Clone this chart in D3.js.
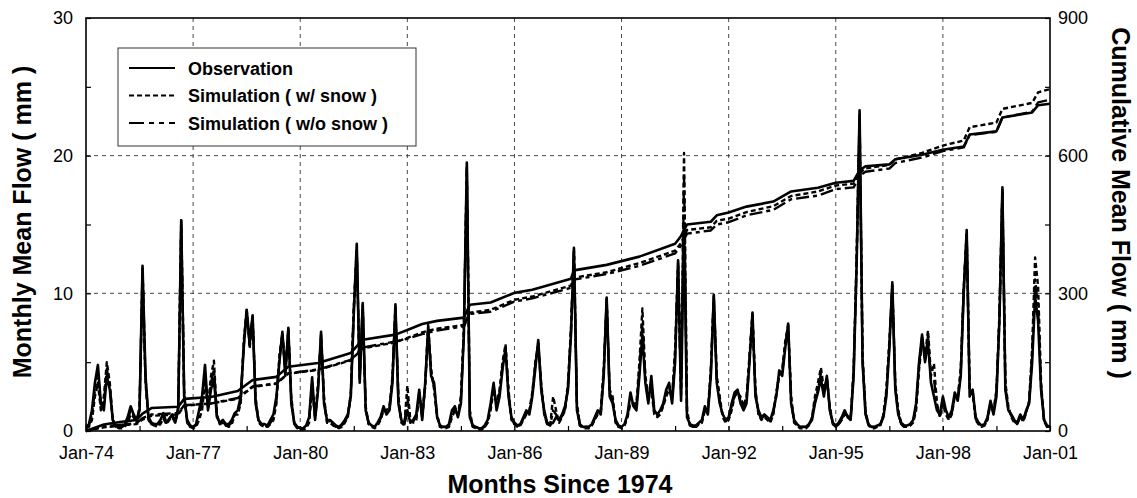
<!DOCTYPE html>
<html><head><meta charset="utf-8">
<script src="https://cdnjs.cloudflare.com/ajax/libs/d3/7.8.5/d3.min.js"></script>
<style>
body{margin:0;background:#fff}
svg{display:block}
text{font-family:"Liberation Sans",Arial,Helvetica,sans-serif;fill:#000}
</style>
</head><body>
<svg id="chart" width="1137" height="498"></svg>
<script>
// ---------- DATA (month index 0 = Jan-74 ... 324 = Jan-01) ----------
const xTickMonths = [0, 36, 72, 108, 144, 180, 216, 252, 288, 324];
const xTickLabels = ["Jan-74","Jan-77","Jan-80","Jan-83","Jan-86","Jan-89","Jan-92","Jan-95","Jan-98","Jan-01"];
const xMinorMonths = [18, 54, 90, 126, 162, 198, 234, 270, 306];
const leftTicks = [0, 10, 20, 30];
const leftMinor = [5, 15, 25];
const rightTicks = [0, 300, 600, 900];
const rightMinor = [150, 450, 750];
const seriesNames = ["Observation", "Simulation ( w/ snow )", "Simulation ( w/o snow )"];

// Monthly mean flow (mm) - observation
const obsMonthly = [
 0.3,0.5,1.5,3.5,4.8,2.0,1.5,4.0,3.0,0.8,0.4,0.3,      // 1974
 0.3,0.5,1.0,1.8,1.2,0.8,1.5,12.0,4.0,1.0,0.6,0.5,     // 1975
 0.5,0.8,1.3,0.6,0.9,1.2,0.7,1.5,15.3,2.5,0.8,0.4,     // 1976
 0.3,0.5,1.5,2.5,4.8,1.5,3.0,3.8,1.0,0.6,0.8,0.5,      // 1977
 0.5,0.8,1.3,1.5,2.5,6.0,8.8,6.5,8.4,2.0,0.8,0.5,      // 1978
 0.5,0.4,0.8,1.2,2.5,5.0,7.2,4.0,7.5,2.0,0.6,0.3,      // 1979
 0.2,0.2,0.4,1.0,3.9,0.8,3.0,7.2,2.0,0.8,0.8,0.6,      // 1980
 0.4,0.3,0.5,0.8,1.2,2.5,8.5,13.6,3.5,9.3,1.5,0.6,     // 1981
 0.4,0.3,0.6,1.0,1.8,1.2,1.5,3.5,9.2,2.0,0.8,0.5,      // 1982
 1.5,0.6,0.8,1.2,3.0,0.8,3.5,7.5,4.0,3.5,1.0,0.4,      // 1983
 0.3,0.3,0.5,1.5,1.8,1.0,2.0,7.0,19.5,1.0,0.4,0.3,     // 1984
 0.2,0.2,0.4,0.8,2.0,3.5,1.5,2.5,4.5,6.0,2.5,1.0,      // 1985
 0.6,0.4,0.5,1.0,1.5,1.2,2.5,4.5,6.6,3.0,1.5,0.6,      // 1986
 0.5,0.6,1.0,0.8,1.2,1.8,3.0,7.0,13.3,1.5,0.5,0.3,     // 1987
 0.3,0.3,0.5,1.0,1.5,1.2,4.0,9.7,2.5,2.0,0.8,0.4,      // 1988
 0.3,0.5,1.2,2.8,1.8,1.5,4.0,7.0,3.5,2.0,4.0,1.5,      // 1989
 1.2,1.5,2.0,3.0,3.5,2.0,5.0,12.4,2.2,15.0,1.0,0.5,    // 1990
 0.4,0.4,0.6,0.8,1.8,1.2,4.0,9.9,3.5,2.0,1.2,0.8,      // 1991
 1.0,2.0,2.8,3.0,2.0,1.5,2.0,5.0,8.6,2.5,1.5,1.0,      // 1992
 1.2,1.0,0.8,1.5,2.5,4.4,4.0,6.0,7.8,2.0,0.8,0.5,      // 1993
 0.3,0.3,0.3,0.5,0.8,2.0,2.8,3.8,2.5,4.0,1.5,0.6,      // 1994
 0.4,0.6,1.0,1.5,1.0,0.8,4.0,12.0,23.3,5.0,1.2,0.5,    // 1995
 0.3,0.3,0.4,0.5,1.0,2.5,6.0,10.8,3.0,1.2,0.6,0.4,     // 1996
 0.4,0.5,0.8,2.0,5.0,7.0,5.0,6.5,3.5,2.5,1.5,1.2,      // 1997
 2.5,1.5,1.0,1.5,2.8,2.2,4.0,10.0,14.6,2.5,3.0,1.0,    // 1998
 0.6,0.4,0.5,1.0,2.2,1.2,2.5,8.0,17.7,3.0,1.5,1.2,     // 1999
 0.8,0.6,1.2,0.8,1.5,2.0,5.0,9.8,8.0,3.0,0.8,0.4,      // 2000
 0.3                                                   // Jan-01
];
// Monthly mean flow (mm) - simulation with snow
const simSnowMonthly = [
 0.2,0.3,0.8,2.5,3.5,1.5,2.5,5.0,3.5,0.8,0.3,0.2,
 0.2,0.3,0.6,1.2,1.0,0.6,1.8,11.5,3.5,0.8,0.5,0.4,
 0.3,0.5,0.9,0.5,0.8,1.0,0.6,1.8,15.3,2.8,0.6,0.3,
 0.2,0.3,0.8,1.5,3.5,1.8,4.0,5.1,1.2,0.5,0.6,0.4,
 0.3,0.5,1.2,1.2,2.0,6.5,8.9,6.0,8.2,2.5,0.6,0.4,
 0.3,0.3,0.5,0.8,2.0,5.5,7.0,4.5,7.3,2.5,0.5,0.2,
 0.1,0.1,0.2,0.6,3.2,1.0,3.5,6.8,2.5,0.6,0.6,0.4,
 0.3,0.2,0.3,0.6,1.0,2.8,9.0,13.0,4.0,9.0,1.8,0.5,
 0.3,0.2,0.4,0.8,1.5,1.5,1.8,4.0,8.8,2.5,0.6,0.4,
 3.3,0.8,0.6,0.8,2.5,1.2,3.2,7.7,4.5,3.0,1.2,0.3,
 0.2,0.2,0.3,1.0,1.5,1.2,2.5,7.5,19.0,1.5,0.3,0.2,
 0.1,0.1,0.3,0.6,1.5,3.0,2.0,3.0,5.0,6.3,3.0,0.8,
 0.5,0.3,0.4,0.8,1.2,1.5,2.8,5.0,6.3,3.5,1.2,0.5,
 0.4,2.5,1.5,0.6,1.0,1.5,3.5,7.5,13.0,2.0,0.4,0.2,
 0.2,0.2,0.4,0.8,1.2,1.5,4.5,9.5,3.0,2.5,0.6,0.3,
 0.2,0.4,1.0,2.0,2.0,2.0,5.0,8.9,4.0,2.5,3.0,1.2,
 1.0,1.2,1.8,2.5,3.0,2.5,6.0,12.0,3.0,20.2,1.5,0.4,
 0.3,0.3,0.5,0.6,1.5,1.5,4.5,9.6,4.0,2.5,1.0,0.6,
 0.8,1.5,2.5,2.8,2.5,1.8,2.5,5.5,8.4,3.0,1.2,0.8,
 1.0,0.8,0.6,1.2,2.8,4.0,4.5,6.5,7.6,2.5,0.6,0.4,
 0.2,0.2,0.2,0.4,1.0,2.5,3.5,4.6,3.0,3.8,1.8,0.5,
 0.3,0.5,0.8,1.2,1.2,1.0,4.5,12.5,22.8,5.5,1.5,0.4,
 0.2,0.2,0.3,0.4,1.2,3.0,6.5,10.5,3.5,1.5,0.5,0.3,
 0.3,0.4,0.6,1.5,4.5,6.5,5.5,7.3,4.0,4.9,2.0,1.0,
 2.0,1.2,0.8,1.2,2.5,2.5,4.5,10.5,14.3,3.0,2.8,0.8,
 0.5,0.3,0.4,0.8,2.0,1.5,3.0,8.5,17.4,3.5,1.8,1.0,
 0.6,0.5,1.0,0.7,1.3,2.2,6.0,12.6,10.5,3.5,0.7,0.3,
 0.3
];
// Monthly mean flow (mm) - simulation without snow
const simNoSnowMonthly = [
 0.3,0.4,1.2,3.0,4.2,1.8,2.0,4.5,3.2,0.8,0.3,0.3,
 0.3,0.4,0.8,1.5,1.1,0.7,1.6,11.8,3.8,0.9,0.5,0.4,
 0.4,0.6,1.1,0.6,0.8,1.1,0.6,1.6,15.0,2.6,0.7,0.3,
 0.3,0.4,1.2,2.0,4.2,1.6,3.5,4.5,1.1,0.5,0.7,0.4,
 0.4,0.6,1.2,1.4,2.2,6.2,8.6,6.2,8.3,2.2,0.7,0.4,
 0.4,0.3,0.6,1.0,2.2,5.2,7.1,4.2,7.4,2.2,0.5,0.3,
 0.2,0.2,0.3,0.8,3.5,0.9,3.2,7.0,2.2,0.7,0.7,0.5,
 0.3,0.3,0.4,0.7,1.1,2.6,8.8,13.3,3.8,9.1,1.6,0.5,
 0.3,0.3,0.5,0.9,1.6,1.3,1.6,3.8,9.0,2.2,0.7,0.4,
 2.5,0.7,0.7,1.0,2.8,1.0,3.3,7.6,4.2,3.2,1.1,0.3,
 0.3,0.3,0.4,1.2,1.6,1.1,2.2,7.2,19.2,1.2,0.3,0.3,
 0.2,0.2,0.3,0.7,1.8,3.2,1.8,2.8,4.8,6.1,2.8,0.9,
 0.5,0.4,0.4,0.9,1.3,1.3,2.6,4.8,6.4,3.2,1.3,0.5,
 0.4,1.5,1.2,0.7,1.1,1.6,3.2,7.2,13.1,1.8,0.4,0.3,
 0.3,0.3,0.4,0.9,1.3,1.3,4.2,9.6,2.8,2.2,0.7,0.3,
 0.3,0.4,1.1,2.4,1.9,1.8,4.5,7.8,3.8,2.2,3.5,1.3,
 1.1,1.3,1.9,2.8,3.2,2.2,5.5,12.2,2.6,18.5,1.2,0.4,
 0.3,0.3,0.5,0.7,1.6,1.3,4.2,9.8,3.8,2.2,1.1,0.7,
 0.9,1.8,2.6,2.9,2.2,1.6,2.2,5.2,8.5,2.8,1.3,0.9,
 1.1,0.9,0.7,1.3,2.6,4.2,4.2,6.2,7.7,2.2,0.7,0.4,
 0.3,0.3,0.3,0.5,0.9,2.2,3.0,4.2,2.8,3.9,1.6,0.5,
 0.3,0.5,0.9,1.3,1.1,0.9,4.2,12.2,23.0,5.2,1.3,0.4,
 0.3,0.3,0.3,0.5,1.1,2.8,6.2,10.6,3.2,1.3,0.5,0.3,
 0.3,0.4,0.7,1.8,4.8,6.8,5.2,6.9,3.8,3.8,1.8,1.1,
 2.2,1.3,0.9,1.3,2.6,2.4,4.2,10.2,14.4,2.8,2.9,0.9,
 0.5,0.4,0.4,0.9,2.1,1.3,2.8,8.2,17.5,3.2,1.6,1.1,
 0.7,0.5,1.1,0.8,1.4,2.1,5.5,11.0,9.0,3.2,0.8,0.3,
 0.3
];

// Cumulative mean flow (mm), read at these months
const cumMonths = [0,6,12,17,19,22,31,33,42,51,56,64,68,78,89,93,104,108,113,118,127,129,136,144,150,163,164,175,186,198,200,202,210,212,216,222,231,237,246,252,258,260,262,270,272,281,288,295,297,306,308,318,320,324];
const obsCum = [0,14,20,24,38,50,53,70,74,87,111,118,140,148,170,199,210,220,233,240,247,275,280,301,308,332,350,362,380,408,425,450,456,470,476,489,500,522,530,541,545,568,577,581,592,602,613,620,646,653,683,694,710,713];
const simSnowCum = [0,8,12,15,25,33,36,55,60,70,96,103,125,133,154,180,193,203,215,223,231,258,264,286,293,317,334,346,366,393,410,438,444,458,463,477,490,512,522,535,539,563,572,580,592,606,622,633,662,672,702,715,738,745];
const simNoSnowCum = [0,10,14,17,28,36,39,56,60,72,97,104,126,134,155,182,195,201,211,219,228,255,260,282,289,312,330,342,360,387,404,430,437,450,455,470,482,505,513,527,531,556,565,572,584,596,610,618,645,652,683,696,716,722];

// ---------- DRAWING ----------
const svg = d3.select("#chart");
const L = 86, R = 1050, T = 18, B = 431;
const x = d3.scaleLinear().domain([0, 324]).range([L, R]);
const yL = d3.scaleLinear().domain([0, 30]).range([B, T]);
const yR = d3.scaleLinear().domain([0, 900]).range([B, T]);

const styles = [
  {dash: null, w: 2.6},
  {dash: "5,3", w: 2.4},
  {dash: "13,4,4,4", w: 2.4}
];

// gridlines
const grid = svg.append("g").attr("stroke", "#333").attr("stroke-width", 0.9).attr("stroke-dasharray", "4,4");
xTickMonths.slice(1, -1).forEach(m => {
  grid.append("line").attr("x1", x(m)).attr("x2", x(m)).attr("y1", T).attr("y2", B);
});
[10, 20].forEach(v => {
  grid.append("line").attr("x1", L).attr("x2", R).attr("y1", yL(v)).attr("y2", yL(v));
});

// data lines
const plot = svg.append("g");
const monthlyLine = d3.line().x((d, i) => x(i)).y(d => yL(d));
const cumLine = d3.line().x((d, i) => x(cumMonths[i])).y(d => yR(d));
const monthlySets = [simNoSnowMonthly, simSnowMonthly, obsMonthly];
const cumSets = [simNoSnowCum, simSnowCum, obsCum];
const styleIdx = [2, 1, 0];
monthlySets.forEach((s, k) => {
  const st = styles[styleIdx[k]];
  plot.append("path").datum(s).attr("d", monthlyLine)
    .attr("fill", "none").attr("stroke", "#000").attr("stroke-width", st.w)
    .attr("stroke-linejoin", "round").attr("stroke-dasharray", st.dash);
});
cumSets.forEach((s, k) => {
  const st = styles[styleIdx[k]];
  plot.append("path").datum(s).attr("d", cumLine)
    .attr("fill", "none").attr("stroke", "#000").attr("stroke-width", st.w)
    .attr("stroke-linejoin", "round").attr("stroke-dasharray", st.dash);
});

// axes
const fontSize = 18;
svg.append("g").attr("transform", `translate(0,${B})`)
  .call(d3.axisBottom(x).tickValues(xTickMonths).tickFormat((d, i) => xTickLabels[i]).tickSizeInner(-5).tickSizeOuter(0).tickPadding(15));
svg.append("g").attr("transform", `translate(0,${B})`)
  .call(d3.axisBottom(x).tickValues(xMinorMonths).tickFormat("").tickSizeInner(-5).tickSizeOuter(0));
svg.append("g").attr("transform", `translate(${L},0)`)
  .call(d3.axisLeft(yL).tickValues(leftTicks).tickFormat(d3.format("d")).tickSizeInner(-5).tickSizeOuter(0).tickPadding(13));
svg.append("g").attr("transform", `translate(${L},0)`)
  .call(d3.axisLeft(yL).tickValues(leftMinor).tickFormat("").tickSizeInner(-5).tickSizeOuter(0));
svg.append("g").attr("transform", `translate(${R},0)`)
  .call(d3.axisRight(yR).tickValues(rightTicks).tickFormat(d3.format("d")).tickSizeInner(-5).tickSizeOuter(0).tickPadding(8));
svg.append("g").attr("transform", `translate(${R},0)`)
  .call(d3.axisRight(yR).tickValues(rightMinor).tickFormat("").tickSizeInner(-5).tickSizeOuter(0));
svg.selectAll(".domain").remove();
svg.selectAll(".tick line").attr("stroke", "#000").attr("stroke-width", 1.2);
svg.selectAll(".tick text").attr("font-size", fontSize).attr("font-family", '"Liberation Sans",Arial,sans-serif').attr("fill", "#000");

// frame
svg.append("rect").attr("x", L).attr("y", T).attr("width", R - L).attr("height", B - T)
  .attr("fill", "none").attr("stroke", "#000").attr("stroke-width", 1.6);

// legend
const lg = svg.append("g");
lg.append("rect").attr("x", 118).attr("y", 48).attr("width", 298).attr("height", 98)
  .attr("fill", "#fff").attr("stroke", "#333").attr("stroke-width", 1);
[0, 1, 2].forEach(i => {
  const cy = 68 + i * 27.5;
  lg.append("line").attr("x1", 129).attr("x2", 175).attr("y1", cy).attr("y2", cy)
    .attr("stroke", "#000").attr("stroke-width", 2).attr("stroke-dasharray", i === 2 ? "15,5,5,5,5,5" : styles[i].dash);
  lg.append("text").attr("x", 188).attr("y", cy + 6.5).attr("font-size", 18).attr("font-weight", "bold")
    .text(seriesNames[i]);
});

// titles
svg.append("text").attr("transform", "translate(31,222) rotate(-90)")
  .attr("text-anchor", "middle").attr("font-size", 25).attr("font-weight", "bold")
  .text("Monthly Mean Flow ( mm )");
svg.append("text").attr("transform", "translate(1112,203) rotate(90)")
  .attr("text-anchor", "middle").attr("font-size", 25).attr("font-weight", "bold")
  .text("Cumulative Mean Flow ( mm )");
svg.append("text").attr("x", 560).attr("y", 493)
  .attr("text-anchor", "middle").attr("font-size", 25).attr("font-weight", "bold")
  .text("Months Since 1974");
</script>
</body></html>
